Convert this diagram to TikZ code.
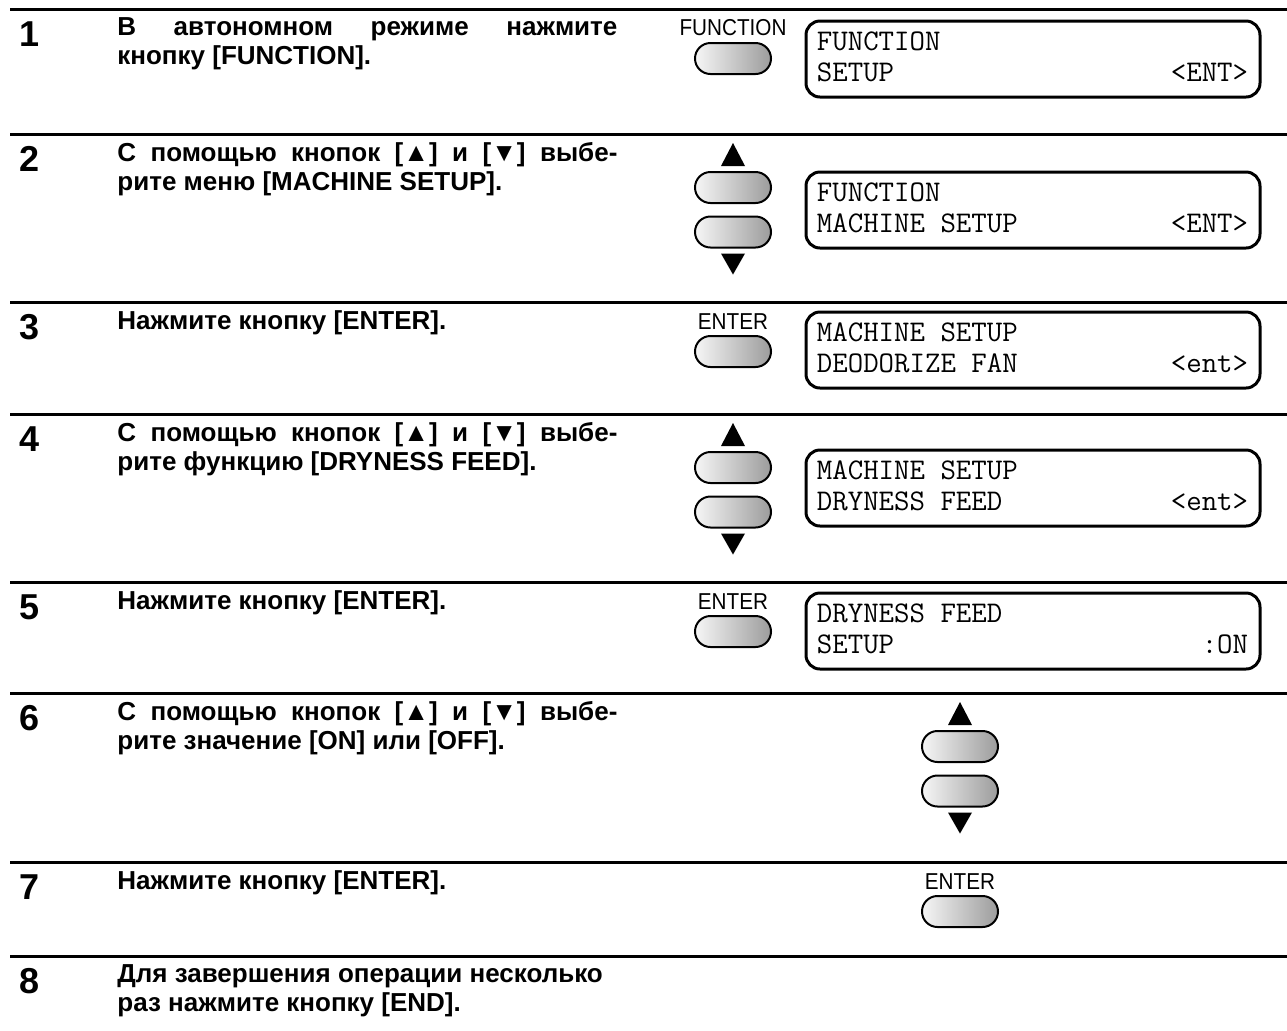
\documentclass[tikz,border=0pt]{standalone}
\usepackage{fontspec}
\setmainfont{Liberation Sans}
\newfontfamily\narrowsans[FakeStretch=0.9]{Liberation Sans}
\usetikzlibrary{positioning, shapes.misc, calc}
\definecolor{keyLight}{HTML}{F6F6F6}
\definecolor{keyDark}{HTML}{9C9C9C}

\tikzset{
  hrule/.style={line width=1.5pt},
  stepnum/.style={font=\bfseries\fontsize{18}{18}\selectfont, anchor=base, inner sep=0pt},
  steptext/.style={font=\bfseries\fontsize{13}{14.5}\selectfont, text width=250pt,
    align=justify, anchor=north west, inner sep=0pt},
  keylabel/.style={font=\narrowsans\fontsize{11.5}{11.5}\selectfont, inner sep=0pt},
  keybtn/.style={draw, line width=1pt, rounded rectangle, minimum width=38pt,
    minimum height=15.5pt, inner sep=0pt, left color=keyLight, right color=keyDark},
  lcd/.style={draw, line width=1.5pt, rounded corners=7pt, minimum width=227pt,
    minimum height=38pt, inner sep=0pt},
  lcdtext/.style={font=\ttfamily\fontsize{15}{15}\selectfont, inner sep=0pt},
}

\begin{document}
\begin{tikzpicture}[x=0.5pt, y=-0.5pt]
  \useasboundingbox (0,0) rectangle (1287,1030);

  \foreach \y in {9,134,302,414,582,693,862,956}
    \draw[hrule] (10,\y) -- (1287,\y);

  \foreach \n/\y in {1/9,2/134,3/302,4/414,5/582,6/693,7/862,8/956}
    \node[stepnum] (num\n) at (30,\y+37) {\n};

  \node[steptext] (txt1) at (117,17) {В автономном режиме нажмите\linebreak кнопку [FUNCTION].};
  \node[steptext] (txt2) at (117,142) {С помощью кнопок [▲] и [▼] выбе-\linebreak рите меню [MACHINE SETUP].};
  \node[steptext] (txt3) at (117,310) {Нажмите кнопку [ENTER].};
  \node[steptext] (txt4) at (117,422) {С помощью кнопок [▲] и [▼] выбе-\linebreak рите функцию [DRYNESS FEED].};
  \node[steptext] (txt5) at (117,590) {Нажмите кнопку [ENTER].};
  \node[steptext] (txt6) at (117,701) {С помощью кнопок [▲] и [▼] выбе-\linebreak рите значение [ON] или [OFF].};
  \node[steptext] (txt7) at (117,870) {Нажмите кнопку [ENTER].};
  \node[steptext] (txt8) at (117,964) {Для завершения операции несколько\\ раз нажмите кнопку [END].};

  % single keys
  \node[keylabel] (lab1) at (733,28) {FUNCTION};
  \node[keybtn] (key1) at (733,58.5) {};
  \node[keylabel] (lab3) at (733,322) {ENTER};
  \node[keybtn] (key3) at (733,351.5) {};
  \node[keylabel] (lab5) at (733,602) {ENTER};
  \node[keybtn] (key5) at (733,631.5) {};
  \node[keylabel] (lab7) at (960,882) {ENTER};
  \node[keybtn] (key7) at (960,911.5) {};

  % up/down keys
  \node[keybtn] (up2) at (733,187.5) {};
  \node[keybtn] (dn2) at (733,232) {};
  \node[keybtn] (up4) at (733,467.5) {};
  \node[keybtn] (dn4) at (733,512) {};
  \node[keybtn] (up6) at (960,746.5) {};
  \node[keybtn] (dn6) at (960,791) {};
  \foreach \k in {up2,up4,up6}
    \fill ($(\k.north)+(-12,-5)$) -- ($(\k.north)+(12,-5)$) -- ($(\k.north)+(0,-28)$) -- cycle;
  \foreach \k in {dn2,dn4,dn6}
    \fill ($(\k.south)+(-12,5)$) -- ($(\k.south)+(12,5)$) -- ($(\k.south)+(0,26)$) -- cycle;

  % displays
  \node[lcd] (lcd1) at (1033,59) {};
  \node[lcd] (lcd2) at (1033,210) {};
  \node[lcd] (lcd3) at (1033,350) {};
  \node[lcd] (lcd4) at (1033,488) {};
  \node[lcd] (lcd5) at (1033,631) {};
  \foreach \p/\a/\b/\c in {lcd1/FUNCTION/SETUP/<ENT>, lcd2/FUNCTION/MACHINE SETUP/<ENT>,
      lcd3/MACHINE SETUP/DEODORIZE FAN/<ent>, lcd4/MACHINE SETUP/DRYNESS FEED/<ent>,
      lcd5/DRYNESS FEED/SETUP/:ON} {
    \node[lcdtext, anchor=base west] (\p top) at ($(\p.north west)+(12,31)$) {\a};
    \node[lcdtext, anchor=base west] (\p bot) at ($(\p.north west)+(12,62)$) {\b};
    \node[lcdtext, anchor=base east] (\p end) at ($(\p.north east)+(-13,62)$) {\c};
  }
\end{tikzpicture}
\end{document}
